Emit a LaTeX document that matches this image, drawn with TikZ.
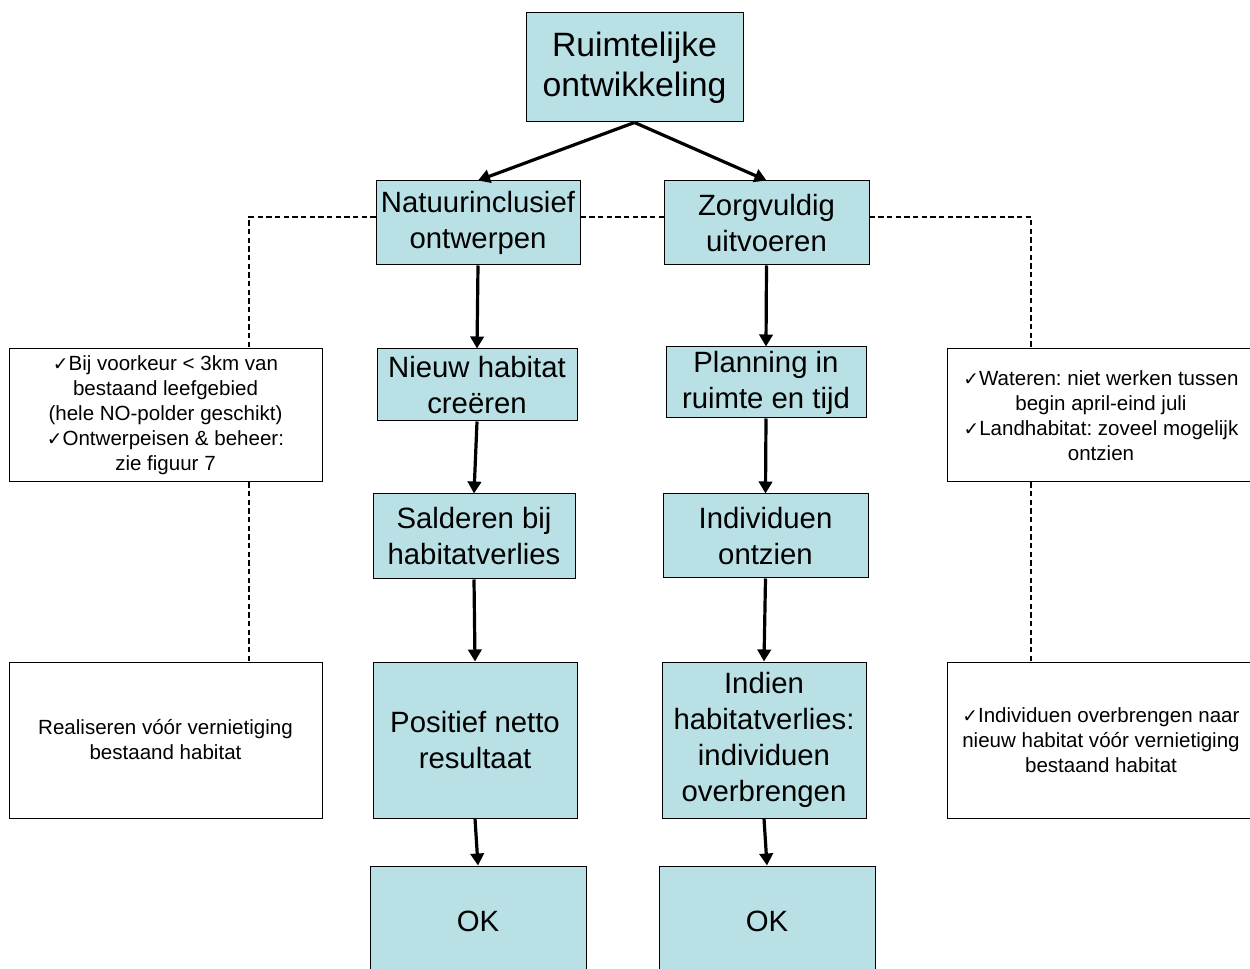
\documentclass[tikz,border=0pt]{standalone}
\usepackage{fontspec}
\setmainfont{Liberation Sans}
\newfontfamily\chkfont{DejaVu Sans}
\usetikzlibrary{arrows.meta}
\frenchspacing

\definecolor{boxblue}{RGB}{185,224,228}
\newcommand{\bigtxt}{\fontsize{25.3}{30}\selectfont}
\newcommand{\midtxt}{\fontsize{22}{27}\selectfont}
\newcommand{\smalltxt}{\fontsize{15.4}{18.75}\selectfont}
\newcommand{\chk}{{\chkfont\fontsize{14}{14}\selectfont ✓}}

\tikzset{
  box/.style={draw, fill=boxblue, line width=0.75pt, inner sep=0pt, align=center, font=\midtxt},
  note/.style={draw, fill=white, line width=0.75pt, inner sep=0pt, align=center, font=\smalltxt},
  sz/.style 2 args={minimum width=#1*0.75pt, minimum height=#2*0.75pt},
  arr/.style={line width=2.4pt, -{Triangle[length=9pt,width=10pt]}},
  link/.style={line width=1.5pt, dash pattern=on 4pt off 2.5pt},
}

\begin{document}
\begin{tikzpicture}[x=0.75pt, y=-0.75pt]
    \useasboundingbox (0,0) rectangle (1250,969);
    \clip (0,0) rectangle (1250,969);

    % middle column
    \node[box, sz={217}{109}, font=\bigtxt] (ruimte) at (634.5,67.5) {Ruimtelijke\\ontwikkeling};
    \node[box, sz={204}{84}] (natuur) at (478,223) {Natuurinclusief\\ontwerpen};
    \node[box, sz={205}{84}] (zorg) at (766.5,223) {Zorgvuldig\\uitvoeren};
    \node[box, sz={200}{72}] (nieuw) at (477,385) {Nieuw habitat\\creëren};
    \node[box, sz={200}{71}] (plan) at (766,382.5) {Planning in\\ruimte en tijd};
    \node[box, sz={202}{85}] (salderen) at (474,536.5) {Salderen bij\\habitatverlies};
    \node[box, sz={205}{84}] (ontzien) at (765.5,536) {Individuen\\ontzien};
    \node[box, sz={204}{156}] (netto) at (475,740) {Positief netto\\resultaat};
    \node[box, sz={204}{156}] (overbr) at (764,740) {Indien\\habitatverlies:\\individuen\\overbrengen};
    \node[box, sz={216}{110}] (okL) at (478,921) {OK};
    \node[box, sz={216}{110}] (okR) at (767,921) {OK};

    % side notes
    \node[note, sz={313}{133}] (noteA) at (165.5,415.5) {\chk Bij voorkeur < 3km van\\bestaand leefgebied\\(hele NO-polder geschikt)\\\chk Ontwerpeisen \& beheer:\\zie figuur 7};
    \node[note, sz={313}{156}] (noteB) at (165.5,740) {Realiseren vóór vernietiging\\bestaand habitat};
    \node[note, sz={308}{133}] (noteC) at (1101,415.5) {\chk Wateren: niet werken tussen\\begin april-eind juli\\\chk Landhabitat: zoveel mogelijk\\ontzien};
    \node[note, sz={308}{156}] (noteD) at (1101,740) {\chk Individuen overbrengen naar\\nieuw habitat vóór vernietiging\\bestaand habitat};

    % arrows
    \draw[arr] (ruimte.south) -- (natuur.north);
    \draw[arr] (ruimte.south) -- (zorg.north);
    \draw[arr] (natuur.south) -- (nieuw.north);
    \draw[arr] (nieuw.south) -- (salderen.north);
    \draw[arr] (salderen.south) -- (netto.north);
    \draw[arr] (netto.south) -- (okL.north);
    \draw[arr] (zorg.south) -- (plan.north);
    \draw[arr] (plan.south) -- (ontzien.north);
    \draw[arr] (ontzien.south) -- (overbr.north);
    \draw[arr] (overbr.south) -- (okR.north);

    % dashed links to the notes
    \coordinate (jl) at (249,217);
    \coordinate (jr) at (1031,217);
    \draw[link] (jl -| natuur.west) -- (jl) -- (jl |- noteA.north);
    \draw[link] (jl |- noteA.south) -- (jl |- noteB.north);
    \draw[link] (jl -| natuur.east) -- (jl -| zorg.west);
    \draw[link] (jr -| zorg.east) -- (jr) -- (jr |- noteC.north);
    \draw[link] (jr |- noteC.south) -- (jr |- noteD.north);
\end{tikzpicture}
\end{document}
